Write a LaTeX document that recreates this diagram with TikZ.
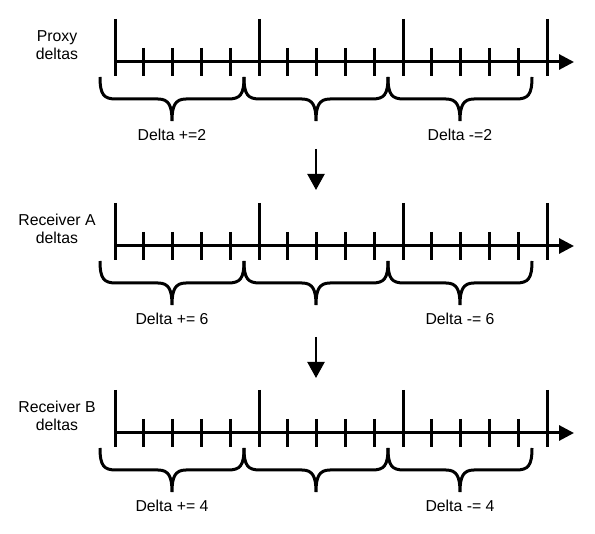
\documentclass[tikz,border=0pt]{standalone}
\usepackage{fontspec}
\setmainfont{Liberation Sans}
\usetikzlibrary{arrows.meta,positioning}
% one timeline row: #1 axis y, #2 name, #3 row label, #4 left delta, #5 right delta
\newcommand{\deltarow}[5]{%
  \draw[axis] (115,#1) -- (574,#1);
  \foreach \k in {0,...,3}
    \draw[tick] (115+144*\k,#1-43) -- (115+144*\k,#1+14);
  \foreach \k in {0,1,2}
    \foreach \m in {1,...,4}
      \draw[tick] (115+144*\k+28.8*\m,#1-14) -- (115+144*\k+28.8*\m,#1+14);
  \foreach \xa [evaluate=\xa as \xb using \xa+144, evaluate=\xa as \xc using \xa+72] in {100,244,388}
    \draw[brace] (\xa,#1+15) .. controls (\xa,#1+33) and (\xa+4,#1+37) .. (\xa+16,#1+37)
      -- (\xc-14,#1+37) .. controls (\xc-3,#1+37) and (\xc,#1+44) .. (\xc,#1+59)
      .. controls (\xc,#1+44) and (\xc+3,#1+37) .. (\xc+14,#1+37)
      -- (\xb-16,#1+37) .. controls (\xb-4,#1+37) and (\xb,#1+33) .. (\xb,#1+15);
  \coordinate (#2-tip) at (316,#1+59);
  \coordinate (#2-top) at (316,#1-43);
  \node[lab] (#2-name)  at (57,#1-17)  {#3};
  \node[lab] (#2-plus)  at (172,#1+73) {#4};
  \node[lab] (#2-minus) at (460,#1+73) {#5};
}

\begin{document}
\begin{tikzpicture}[x=1pt, y=-1pt,
  axis/.style={line width=3pt, -{Triangle[length=15pt,width=15pt]}},
  tick/.style={line width=3pt},
  brace/.style={line width=3pt},
  lab/.style={font=\fontsize{15.8}{17.5}\selectfont, align=center, inner sep=0pt},
  flow/.style={line width=2.2pt, -{Triangle[length=16pt,width=17pt]}}]
\useasboundingbox (0,0) rectangle (595,534);
% proxy, then the two receivers
\deltarow{62}{proxy}{Proxy\\deltas}{Delta +=2}{Delta -=2}
\deltarow{246}{recA}{Receiver A\\deltas}{Delta += 6}{Delta -= 6}
\deltarow{433}{recB}{Receiver B\\deltas}{Delta += 4}{Delta -= 4}
\draw[flow] ([yshift=-28pt]proxy-tip) -- ([yshift=13pt]recA-top);
\draw[flow] ([yshift=-32pt]recA-tip) -- ([yshift=12pt]recB-top);
\end{tikzpicture}
\end{document}
